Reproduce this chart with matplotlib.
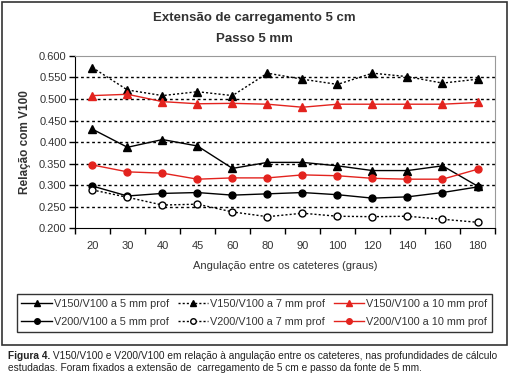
import matplotlib
matplotlib.use('Agg')
import matplotlib.pyplot as plt
from matplotlib.patches import Rectangle
from matplotlib.offsetbox import TextArea, HPacker, AnchoredOffsetbox

plt.rcParams['font.family'] = ['Liberation Sans', 'DejaVu Sans']

# categories (angle between catheters, degrees)
angles = ['20', '30', '40', '45', '60', '80', '90', '100', '120', '140', '160', '180']

v150_5mm = [0.430, 0.388, 0.406, 0.391, 0.339, 0.353, 0.353, 0.345, 0.334, 0.334, 0.345, 0.298]
v150_7mm = [0.573, 0.521, 0.508, 0.517, 0.508, 0.560, 0.546, 0.534, 0.560, 0.552, 0.537, 0.546]
v150_10mm = [0.508, 0.511, 0.494, 0.489, 0.490, 0.488, 0.481, 0.488, 0.488, 0.488, 0.488, 0.492]
v200_5mm = [0.298, 0.275, 0.281, 0.283, 0.277, 0.280, 0.283, 0.278, 0.270, 0.273, 0.283, 0.296]
v200_7mm = [0.289, 0.272, 0.254, 0.256, 0.238, 0.227, 0.235, 0.228, 0.227, 0.228, 0.221, 0.214]
v200_10mm = [0.347, 0.331, 0.328, 0.314, 0.317, 0.317, 0.324, 0.322, 0.316, 0.314, 0.314, 0.337]

yticks = [0.200, 0.250, 0.300, 0.350, 0.400, 0.450, 0.500, 0.550, 0.600]

RED = '#e3231e'

fig = plt.figure(figsize=(5.09, 3.78), dpi=100)
ax = fig.add_axes([0.1473, 0.396, 0.8252, 0.456])

x = list(range(len(angles)))

# grid lines first
for yv in yticks[1:-1]:
    ax.axhline(yv, color='black', linestyle=(0, (2, 2)), linewidth=1.0, zorder=1)

h1, = ax.plot(x, v150_5mm, color='black', lw=1.0, marker='^', ms=6,
              label='V150/V100 a 5 mm prof', zorder=3)
h2, = ax.plot(x, v150_7mm, color='black', lw=1.0, ls=(0, (1.5, 1.5)), marker='^', ms=6,
              label='V150/V100 a 7 mm prof', zorder=3)
h3, = ax.plot(x, v150_10mm, color=RED, lw=1.0, marker='^', ms=6,
              label='V150/V100 a 10 mm prof', zorder=3)
h4, = ax.plot(x, v200_5mm, color='black', lw=1.0, marker='o', ms=5,
              label='V200/V100 a 5 mm prof', zorder=3)
h5, = ax.plot(x, v200_7mm, color='black', lw=1.0, ls=(0, (1.5, 1.5)), marker='o', ms=5,
              mfc='white', label='V200/V100 a 7 mm prof', zorder=3)
h6, = ax.plot(x, v200_10mm, color=RED, lw=1.0, marker='o', ms=5,
              label='V200/V100 a 10 mm prof', zorder=3)

ax.set_xlim(-0.5, len(angles) - 0.5)
ax.set_ylim(0.2, 0.6)
ax.set_yticks(yticks)
ax.set_yticklabels([f"{v:.3f}" for v in yticks], fontsize=8, color='#333333')
ax.set_xticks(x)
ax.set_xticklabels(angles, fontsize=8, color='#333333')
ax.set_xticks([i - 0.5 for i in range(len(angles) + 1)], minor=True)
ax.tick_params(axis='x', which='major', length=0, pad=9)
ax.tick_params(axis='x', which='minor', length=4, direction='out', width=1)
ax.tick_params(axis='y', length=4, direction='out', width=1, pad=2)

for side in ('top', 'right'):
    ax.spines[side].set_color('#999999')
for side in ('left', 'bottom'):
    ax.spines[side].set_color('black')

ax.set_ylabel('Relação com V100', fontsize=8.5, fontweight='bold', color='#333333', labelpad=6)
ax.set_xlabel('Angulação entre os cateteres (graus)', fontsize=8, color='#333333', labelpad=7)

fig.text(0.5, 0.952, 'Extensão de carregamento 5 cm', ha='center', va='center',
         fontsize=9.5, fontweight='bold', color='#333333')
fig.text(0.5, 0.897, 'Passo 5 mm', ha='center', va='center',
         fontsize=9.5, fontweight='bold', color='#333333')

leg = fig.legend(handles=[h1, h4, h2, h5, h3, h6], ncol=3, loc='center',
                 bbox_to_anchor=(0.5, 0.172), fontsize=7.8, frameon=True, fancybox=False,
                 edgecolor='black', handlelength=2.8, handletextpad=0.2,
                 columnspacing=0.8, borderpad=0.45, labelspacing=0.75, markerscale=0.8)
leg.get_frame().set_linewidth(1.0)
for t in leg.get_texts():
    t.set_color('#333333')

# outer frame
fig.patches.append(Rectangle((0.004, 0.087), 0.992, 0.908, transform=fig.transFigure,
                             fill=False, edgecolor='#333333', linewidth=1.2))

# caption
cap_bold = TextArea('Figura 4.', textprops=dict(fontsize=7.3, fontweight='bold', color='#222222'))
cap_rest = TextArea(' V150/V100 e V200/V100 em relação à angulação entre os cateteres, nas profundidades de cálculo',
                    textprops=dict(fontsize=7.3, color='#222222'))
line1 = HPacker(children=[cap_bold, cap_rest], pad=0, sep=0)
box1 = AnchoredOffsetbox(loc='center left', child=line1, pad=0, frameon=False,
                         bbox_to_anchor=(0.016, 0.058), bbox_transform=fig.transFigure, borderpad=0)
fig.add_artist(box1)
fig.text(0.016, 0.026, 'estudadas. Foram fixados a extensão de  carregamento de 5 cm e passo da fonte de 5 mm.',
         fontsize=7.3, color='#222222', va='center')

fig.savefig('out.png', dpi=100)
plt.close(fig)
